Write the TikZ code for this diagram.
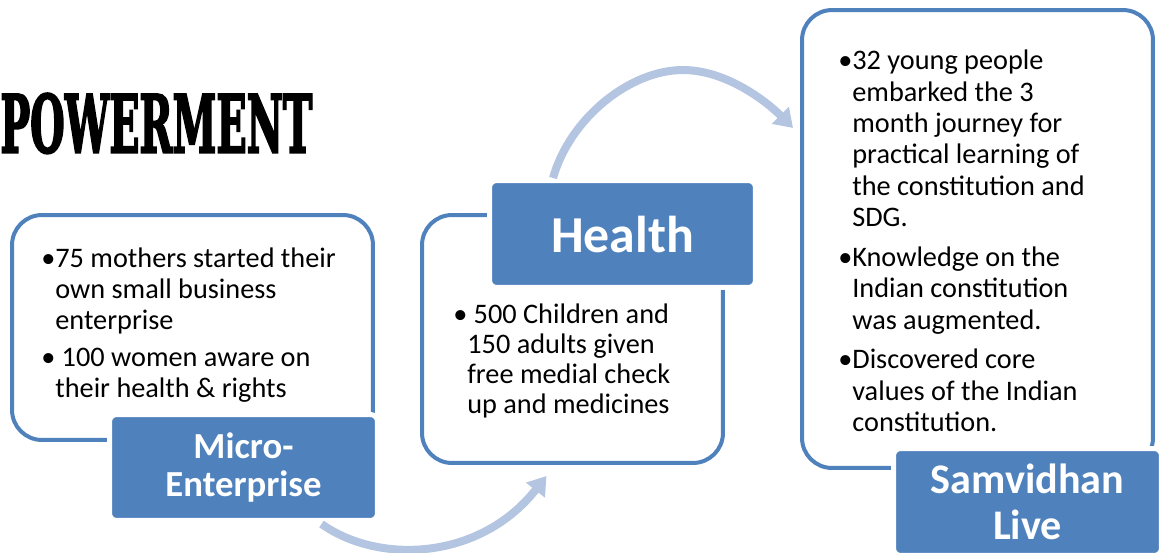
\documentclass[tikz,border=0pt]{standalone}
\usepackage{fontspec}
\setmainfont{Carlito}
\newfontfamily\titlefont{DejaVu Serif Condensed}[FakeBold=3]
\usetikzlibrary{arrows.meta,positioning}
\definecolor{accent}{RGB}{79,129,189}
\definecolor{flowblue}{RGB}{180,197,225}

\begin{document}
\begin{tikzpicture}[x=0.02cm,y=-0.02cm,
      infobox/.style={
         draw=accent,
         line width=0.08cm,
         rounded corners=0.6cm,
         inner sep=0pt},
      tagbox/.style={
         fill=accent,
         draw=white,
         line width=0.1cm,
         rounded corners=0.14cm,
         inner sep=0pt,
         text=white,
         align=center},
      bullettxt/.style={
         anchor=base west,
         align=left,
         inner sep=0pt,
         font=\fontsize{16.1}{17.6}\selectfont},
      flowarrow/.style={
         draw=flowblue,
         line width=0.16cm,
         -{Triangle[length=0.36cm,width=0.46cm]}}
      ]
      \useasboundingbox (0,0) rectangle (1164,552);

      % title, cut at the left edge
      \node[anchor=north west,inner sep=0pt] (title) at (0,93)
         {\resizebox{6.24cm}{1.18cm}{\titlefont\bfseries POWERMENT}};

      % outlined boxes
      \node[infobox,minimum width=7.22cm,minimum height=4.5cm] (microbox) at (192.5,327.5) {};
      \node[infobox,minimum width=6.02cm,minimum height=4.96cm] (healthbox) at (572.5,339) {};
      \node[infobox,minimum width=7.02cm,minimum height=9.16cm] (samvbox) at (977.5,239) {};

      % bullet texts (placed by the baseline of their last line)
      \node[bullettxt] (microtxt) at (55,397)
         {\llap{•}75 mothers started their\\own small business\\enterprise\\[0.12cm]
          \llap{•}~100 women aware on\\their health \& rights};
      \node[bullettxt,font=\fontsize{16.1}{17}\selectfont] (healthtxt) at (467,413)
         {\llap{•}~500 Children and\\150 adults given\\free medial check\\up and medicines};
      \node[bullettxt,font=\fontsize{16.1}{17.9}\selectfont] (samvtxt) at (852,431.5)
         {\llap{•}32 young people\\embarked the 3\\month journey for\\practical learning of\\the constitution and\\SDG.\\[0.16cm]
          \llap{•}Knowledge on the\\Indian constitution\\was augmented.\\[0.16cm]
          \llap{•}Discovered core\\values of the Indian\\constitution.};

      % title tags
      \node[tagbox,minimum width=5.36cm,minimum height=2.12cm,
            font=\fontsize{20.9}{22.1}\selectfont\bfseries] (micro) at (243.5,467.5) {Micro-\\Enterprise};
      \node[tagbox,minimum width=5.32cm,minimum height=2.14cm,
            font=\fontsize{29.5}{32}\selectfont\bfseries] (health) at (622.5,234) {Health};
      \node[tagbox,minimum width=5.36cm,minimum height=2.14cm,
            font=\fontsize{24}{26.1}\selectfont\bfseries] (samv) at (1027.5,502) {Samvidhan\\Live};

      % curved arrows
      \draw[flowarrow] ([shift={(78,1)}]micro.south)
         .. controls +(58,41) and +(-66,84) .. ([shift={(-26,11)}]healthbox.south);
      \draw[flowarrow] ([shift={(-69.5,0)}]health.north)
         .. controls +(17,-60) and +(-53,0) .. ++(130,-108)
         .. controls +(42,0) and +(-28,-28) .. ([shift={(-7,-111)}]samvbox.west);
\end{tikzpicture}
\end{document}
